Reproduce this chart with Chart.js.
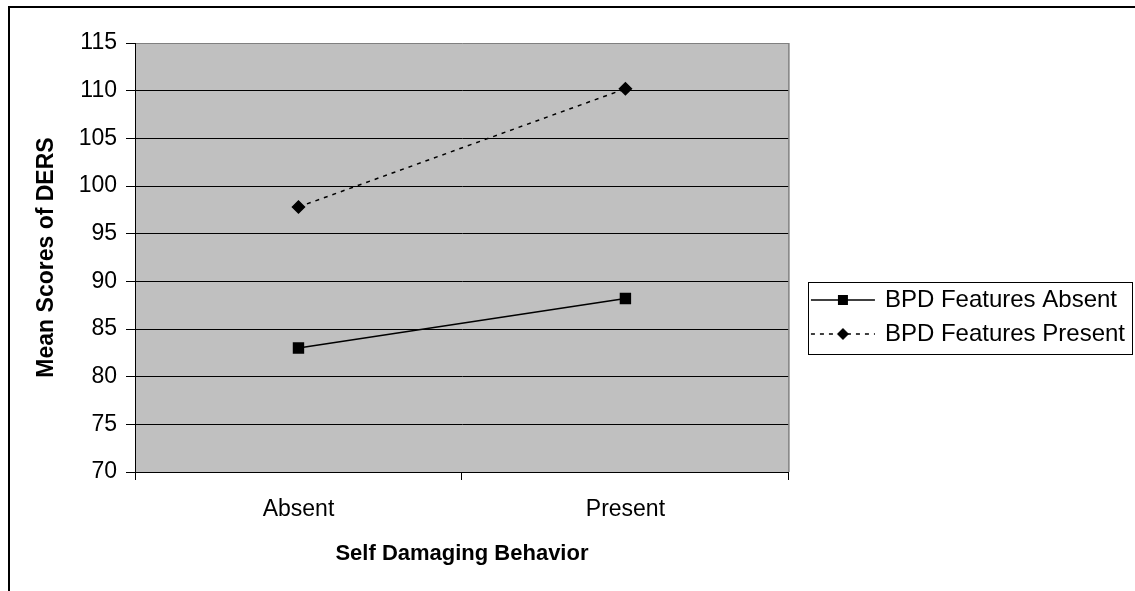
<!DOCTYPE html>
<html>
<head>
<meta charset="utf-8">
<style>
  html, body { margin: 0; padding: 0; background: #fff; }
</style>
<script src="https://cdn.jsdelivr.net/npm/chart.js@4.4.0/dist/chart.umd.min.js"></script>
</head>
<body>
<canvas id="dersChart" width="1135" height="591"></canvas>
<script>
// values
const categories = ['Absent', 'Present'];
const bpdAbsent = [83.0, 88.2];
const bpdPresent = [97.8, 110.2];
const seriesNames = ['BPD Features Absent', 'BPD Features Present'];
const yMin = 70, yMax = 115, yStep = 5;

const FONT = 'Arial, "Liberation Sans", sans-serif';

// legend sample: line with marker in the middle, like the old excel legend
function legendSample(dash, marker) {
  const c = document.createElement('canvas');
  c.width = 100; c.height = 16;
  const g = c.getContext('2d');
  g.strokeStyle = '#000';
  g.lineWidth = 1.5;
  g.setLineDash(dash);
  g.beginPath(); g.moveTo(25, 8); g.lineTo(89, 8); g.stroke();
  g.setLineDash([]);
  g.fillStyle = '#000';
  if (marker === 'rect') {
    g.fillRect(52, 3, 10, 10);
  } else {
    g.beginPath();
    g.moveTo(57, 2); g.lineTo(63, 8); g.lineTo(57, 14); g.lineTo(51, 8);
    g.closePath(); g.fill();
  }
  return c;
}
const samples = [legendSample([], 'rect'), legendSample([4, 5], 'diamond')];

const framePlugin = {
  id: 'frame',
  beforeDraw(chart) {
    const a = chart.chartArea, ctx = chart.ctx;
    ctx.save();
    ctx.fillStyle = '#C0C0C0';
    ctx.fillRect(a.left, a.top, a.right - a.left, a.bottom - a.top);
    ctx.restore();
  },
  afterDraw(chart) {
    const a = chart.chartArea, ctx = chart.ctx;
    ctx.save();
    // plot border on the right
    ctx.strokeStyle = '#808080';
    ctx.lineWidth = 1.5;
    ctx.beginPath(); ctx.moveTo(a.right, a.top); ctx.lineTo(a.right, a.bottom); ctx.stroke();
    // outer chart border (top + left only show)
    ctx.strokeStyle = '#000';
    ctx.lineWidth = 2;
    ctx.beginPath();
    ctx.moveTo(chart.width, 7); ctx.lineTo(9, 7); ctx.lineTo(9, chart.height);
    ctx.stroke();
    // legend frame
    const lg = chart.legend;
    const hb = lg.legendHitBoxes;
    if (hb && hb.length) {
      const last = hb[hb.length - 1];
      const top = Math.round(hb[0].top - 6) + 0.5;
      const bottom = Math.round(last.top + last.height + 8) + 0.5;
      const left = Math.round(lg.left + 19) + 0.5;
      const right = chart.width - 2.5;
      ctx.strokeStyle = '#000';
      ctx.lineWidth = 1;
      ctx.strokeRect(left, top, right - left, bottom - top);
    }
    ctx.restore();
  }
};

new Chart(document.getElementById('dersChart'), {
  type: 'line',
  data: {
    labels: categories,
    datasets: [
      {
        label: seriesNames[0],
        data: bpdAbsent,
        borderColor: '#000',
        borderWidth: 1.5,
        pointStyle: 'rect',
        pointRadius: 7,
        pointBackgroundColor: '#000',
        pointBorderColor: '#000',
        tension: 0
      },
      {
        label: seriesNames[1],
        data: bpdPresent,
        borderColor: '#000',
        borderWidth: 1.5,
        borderDash: [4, 5],
        pointStyle: 'rectRot',
        pointRadius: 6,
        pointBackgroundColor: '#000',
        pointBorderColor: '#000',
        tension: 0
      }
    ]
  },
  options: {
    responsive: false,
    devicePixelRatio: 1,
    animation: false,
    layout: { padding: { left: 10, right: 0, top: 43, bottom: 0 } },
    plugins: {
      tooltip: { enabled: false },
      legend: {
        position: 'right',
        align: 'center',
        maxWidth: 400,
        labels: {
          usePointStyle: true,
          pointStyleWidth: 74,
          padding: 10,
          color: '#000',
          font: { family: FONT, size: 24 },
          generateLabels: (chart) => chart.data.datasets.map((ds, i) => ({
            text: ds.label,
            pointStyle: samples[i],
            fillStyle: '#000',
            strokeStyle: '#000',
            lineWidth: 0,
            hidden: false,
            datasetIndex: i
          }))
        }
      }
    },
    scales: {
      x: {
        type: 'category',
        offset: true,
        grid: {
          offset: true,
          drawOnChartArea: false,
          drawTicks: true,
          tickLength: 8,
          color: '#000',
          tickColor: '#000'
        },
        border: { color: '#000', width: 1 },
        ticks: { padding: 16, color: '#000', font: { family: FONT, size: 23 } },
        title: {
          display: true,
          text: 'Self Damaging Behavior',
          color: '#000',
          font: { family: FONT, size: 22, weight: 'bold' },
          padding: { top: 0, bottom: 24 }
        },
        afterFit: (s) => { s.height = 119; }
      },
      y: {
        min: yMin,
        max: yMax,
        grid: {
          color: (c) => (c.tick && c.tick.value === yMax ? '#808080' : '#000'),
          tickColor: '#000',
          tickLength: 9,
          lineWidth: 1
        },
        border: { color: '#000', width: 1 },
        ticks: { stepSize: yStep, padding: 9, color: '#000', font: { family: FONT, size: 23 } },
        title: {
          display: true,
          text: 'Mean Scores of DERS',
          color: '#000',
          font: { family: FONT, size: 23, weight: 'bold' },
          padding: { top: 23, bottom: 0 }
        },
        afterFit: (s) => { s.width = 125; }
      }
    }
  },
  plugins: [framePlugin]
});
</script>
</body>
</html>
